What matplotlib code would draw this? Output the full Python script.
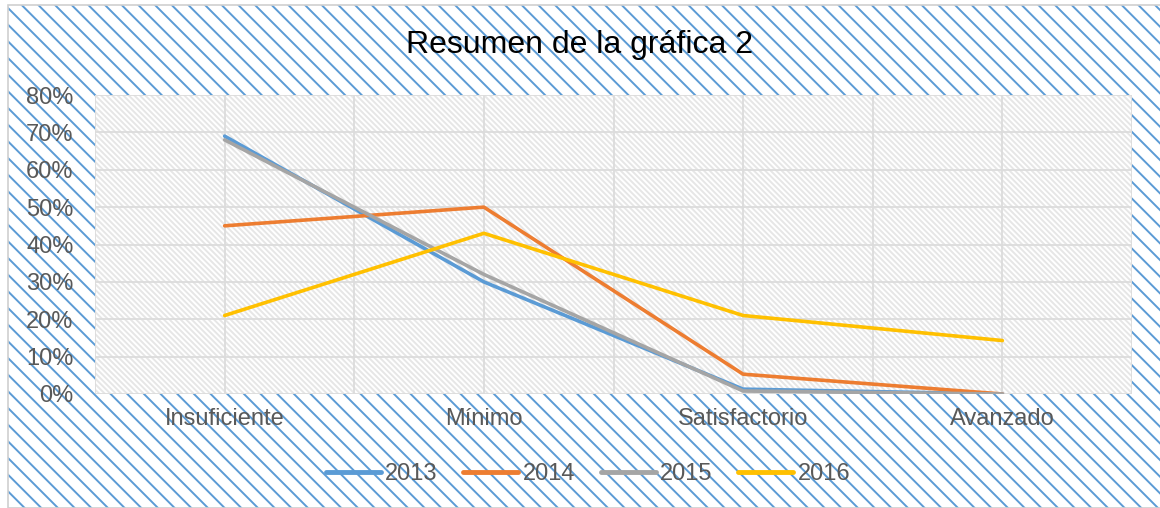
import matplotlib.pyplot as plt
from matplotlib.patches import Rectangle
from matplotlib.ticker import FuncFormatter

plt.rcParams['font.family'] = ['Liberation Sans', 'DejaVu Sans']
plt.rcParams['hatch.linewidth'] = 1.4

categories = ["Insuficiente", "Mínimo", "Satisfactorio", "Avanzado"]
years = ["2013", "2014", "2015", "2016"]
v2013 = [0.69, 0.30, 0.013, 0.0]
v2014 = [0.45, 0.50, 0.053, 0.0]
v2015 = [0.68, 0.32, 0.008, 0.0]
v2016 = [0.21, 0.43, 0.21, 0.143]
colors = ["#5B9BD5", "#ED7D31", "#A5A5A5", "#FFC000"]
text_col = "#595959"

fig = plt.figure(figsize=(11.6, 5.08), dpi=100)

# blue patterned chart background + thin frame
bg = Rectangle((8 / 1160, 0), 1152 / 1160, 503 / 508, transform=fig.transFigure,
               facecolor="white", edgecolor="#5B9BD5", hatch="\\\\", linewidth=0, zorder=-10)
fig.patches.append(bg)
frame = Rectangle((8 / 1160, 0), 1160 / 1160, 503 / 508, transform=fig.transFigure,
                  facecolor="none", edgecolor="#d0d0d0", linewidth=1.2, zorder=-9)
fig.patches.append(frame)

ax = fig.add_axes([95 / 1160, 114 / 508, 1037 / 1160, 299 / 508])
ax.patch.set_facecolor("white")
ax.patch.set_edgecolor("#e6e6e6")
ax.patch.set_hatch("\\\\\\\\\\\\")

x = range(len(categories))
for vals, yr, c in zip([v2013, v2014, v2015, v2016], years, colors):
    ax.plot(x, vals, color=c, lw=2.6, label=yr, solid_capstyle="round", zorder=3)

ax.set_xlim(-0.5, 3.5)
ax.set_ylim(0, 0.8)
ax.set_yticks([i / 10 for i in range(9)])
ax.yaxis.set_major_formatter(FuncFormatter(lambda v, p: f"{v:.0%}"))
ax.set_xticks(list(x))
ax.set_xticks([-0.5, 0.5, 1.5, 2.5, 3.5], minor=True)
ax.set_xticklabels(categories)
ax.grid(True, which="both", color="#dcdcdc", lw=1.3)
ax.set_axisbelow(True)
for s in ax.spines.values():
    s.set_visible(False)
ax.tick_params(axis="both", which="both", length=0, labelsize=17, colors=text_col)
ax.tick_params(axis="y", pad=15.5)
ax.tick_params(axis="x", pad=10)

fig.text(0.5, 1 - 45 / 508, "Resumen de la gráfica 2", ha="center", va="center",
         fontsize=23, color="black")

leg = ax.legend(loc="center", bbox_to_anchor=(588 / 1160, 34 / 508), bbox_transform=fig.transFigure,
                ncol=4, frameon=False, fontsize=17, handlelength=2.33, handletextpad=0.17,
                columnspacing=1.1, labelcolor=text_col)
for h in leg.get_lines():
    h.set_linewidth(3.5)

fig.savefig("out.png", dpi=100)
